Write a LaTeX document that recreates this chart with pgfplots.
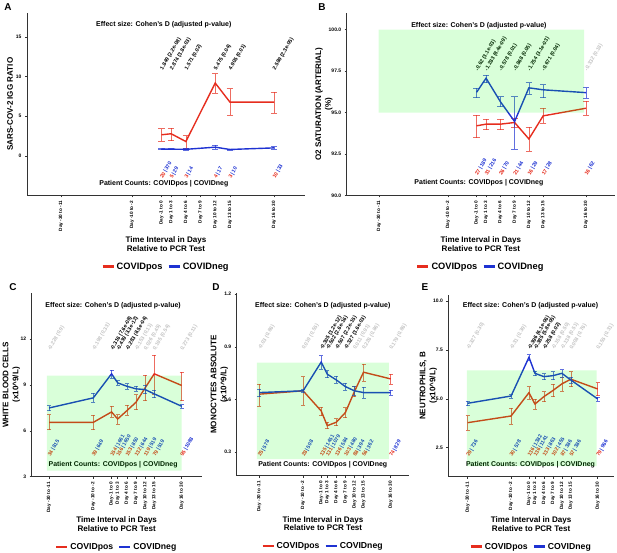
\documentclass[border=0pt]{standalone}
\usepackage{fontspec}
\setmainfont{Liberation Sans}
\usepackage{pgfplots}
\pgfplotsset{compat=1.18}
\definecolor{cpos}{RGB}{230,45,30}
\definecolor{cneg}{RGB}{30,50,210}
\definecolor{lgray}{RGB}{195,195,195}
\newcommand{\lblfont}{\bfseries\fontsize{5.3}{6}\selectfont}
\newcommand{\eff}[4]{\node[rotate=60, anchor=west, inner sep=0.4bp, text=#4, font=\lblfont] at (axis cs:#1,#2) {#3};}
\newcommand{\cnt}[4]{\node[rotate=60, anchor=west, inner sep=0.4bp, font=\lblfont] at (axis cs:#1,#2) {\textcolor{cpos}{#3}\,\textcolor{cneg}{|\,#4}};}
\pgfplotsset{
  panel/.style={
    scale only axis, anchor=south west,
    axis x line*=bottom, axis y line*=left,
    axis line style={line width=0.6bp, black!80},
    tick style={line width=0.5bp, black!80},
    tick align=outside, major tick length=2bp,
    xtick={-20.5,-6,0,2,5,8,11,14,23},
    xticklabels={Day -30 to -11, Day -10 to -2, Day -1 to 0, Day 1 to 3, Day 4 to 6, Day 7 to 9, Day 10 to 12, Day 13 to 15, Day 16 to 30},
    xticklabel style={rotate=90, anchor=east, font=\bfseries\fontsize{4.7}{5}\selectfont},
    yticklabel style={font=\bfseries\fontsize{5}{6}\selectfont},
    /pgf/number format/assume math mode=true,
    clip=false,
    xlabel={Time Interval in Days\\Relative to PCR Test},
    xlabel style={font=\bfseries\fontsize{8.1}{8.6}\selectfont, align=center, at={(axis description cs:0.5,-0.265)}, anchor=center},
    ylabel style={font=\bfseries\fontsize{8.1}{10}\selectfont, align=center, anchor=center},
    legend style={at={(axis description cs:0.5,-0.39)}, anchor=center, draw=none, fill=none, legend columns=2,
      font=\bfseries\fontsize{8.7}{9}\selectfont, /tikz/every even column/.append style={column sep=3bp}},
    legend image code/.code={\draw[#1, line width=2.3bp] (0bp,0.3bp) -- (11bp,0.3bp);},
  },
  ser/.style n args={2}{#1, line width=1.4bp, mark=none,
    error bars/.cd, y dir=both, y explicit,
    error bar style={line width=0.6bp, draw opacity=0.7},
    error mark options={rotate=90, mark size=#2, line width=0.6bp, draw opacity=0.7}},
}
\begin{document}
\begin{tikzpicture}
\path[use as bounding box] (0,0) rectangle (617bp,553bp);
\node[font=\bfseries\fontsize{10}{12}\selectfont] at (8bp,546bp) {A};
\node[font=\bfseries\fontsize{10}{12}\selectfont] at (322bp,546bp) {B};
\node[font=\bfseries\fontsize{10}{12}\selectfont] at (13bp,266bp) {C};
\node[font=\bfseries\fontsize{10}{12}\selectfont] at (216bp,266bp) {D};
\node[font=\bfseries\fontsize{10}{12}\selectfont] at (425bp,266bp) {E};

% ---------------- A ----------------
\begin{axis}[panel, at={(27bp,357.5bp)}, width=278bp, height=182.5bp,
  xmin=-27.44, xmax=29.33, ymin=-5, ymax=18, ytick={0,5,10,15},
  ylabel={SARS-COV-2 IGG RATIO}, ylabel style={at={(axis description cs:-0.061,0.5)}},
  legend style={font=\bfseries\fontsize{9.3}{10}\selectfont}]
\addplot[forget plot, ser={cpos}{3.2bp}] table[x=x, y=y, y error plus=ep, y error minus=em, row sep=\\] {
x y ep em\\ 0 2.65 0.76 0.80\\ 2 2.78 0.75 0.85\\ 5 1.80 0.75 0.85\\ 11 9.17 1.18 1.27\\ 14 6.77 1.69 1.68\\ 23 6.77 1.26 1.39\\};
\addplot[forget plot, ser={cneg}{3.2bp}] table[x=x, y=y, y error plus=ep, y error minus=em, row sep=\\] {
x y ep em\\ 0 0.84 0.06 0.06\\ 2 0.84 0.08 0.08\\ 5 0.82 0.08 0.08\\ 11 1.09 0.22 0.22\\ 14 0.80 0.08 0.08\\ 23 1.00 0.16 0.16\\};
\node[font=\bfseries\fontsize{7}{8}\selectfont] at (axis cs:0.5,16.5) {Effect size: Cohen's D (adjusted p-value)};
\node[font=\bfseries\fontsize{7}{8}\selectfont] at (axis cs:0.5,-3.46) {Patient Counts: COVIDpos | COVIDneg};
\eff{0}{10.8}{1.849 (2.2e-08)}{black}
\eff{2}{10.8}{2.874 (3.8e-03)}{black}
\eff{5}{10.8}{1.571 (0.02)}{black}
\eff{11}{10.8}{5.475 (0.04)}{black}
\eff{14}{10.8}{4.905 (0.01)}{black}
\eff{23}{10.8}{2.589 (2.3e-05)}{black}
\cnt{0}{-2.87}{20}{370}
\cnt{2}{-2.87}{5}{29}
\cnt{5}{-2.87}{3}{14}
\cnt{11}{-2.87}{4}{17}
\cnt{14}{-2.87}{3}{10}
\cnt{23}{-2.87}{10}{33}
\addlegendimage{cpos}\addlegendentry{COVIDpos}
\addlegendimage{cneg}\addlegendentry{COVIDneg}
\end{axis}

% ---------------- B ----------------
\begin{axis}[panel, at={(346.7bp,357.5bp)}, width=268.3bp, height=182.5bp,
  xmin=-27.29, xmax=29.1, ymin=90, ymax=101, ytick={90,92.5,95,97.5,100},
  yticklabel style={/pgf/number format/.cd, fixed, fixed zerofill, precision=1},
  ylabel={O2 SATURATION (ARTERIAL)\\(\%)}, ylabel style={at={(axis description cs:-0.085,0.5)}},
  legend style={font=\bfseries\fontsize{9.3}{10}\selectfont}]
\addplot[forget plot, ser={cpos}{3.2bp}] table[x=x, y=y, y error plus=ep, y error minus=em, row sep=\\] {
x y ep em\\ 0 94.20 0.66 0.71\\ 2 94.30 0.32 0.34\\ 5 94.30 0.32 0.34\\ 8 94.40 0.26 0.30\\ 11 93.41 0.69 0.72\\ 14 94.80 0.46 0.44\\ 23 95.26 0.44 0.40\\};
\addplot[forget plot, ser={cneg}{3.2bp}] table[x=x, y=y, y error plus=ep, y error minus=em, row sep=\\] {
x y ep em\\ 0 96.22 0.24 0.32\\ 2 97.07 0.20 0.26\\ 5 95.66 0.30 0.30\\ 8 94.46 1.50 1.65\\ 11 96.49 0.32 0.39\\ 14 96.37 0.32 0.47\\ 23 96.20 0.30 0.34\\};
\node[font=\bfseries\fontsize{7}{8}\selectfont] at (axis cs:0.5,100.25) {Effect size: Cohen's D (adjusted p-value)};
\node[font=\bfseries\fontsize{7}{8}\selectfont] at (axis cs:0.5,90.74) {Patient Counts: COVIDpos | COVIDneg};
\eff{0}{97.5}{-0.62 (3.1e-03)}{black}
\eff{2}{97.5}{-1.283 (8.4e-09)}{black}
\eff{5}{97.5}{-0.578 (0.01)}{black}
\eff{8}{97.5}{-0.868 (0.05)}{black}
\eff{11}{97.5}{-1.254 (3.1e-03)}{black}
\eff{14}{97.5}{-0.671 (0.04)}{black}
\eff{23}{97.5}{-0.332 (0.18)}{lgray}
\cnt{0}{91.2}{27}{189}
\cnt{2}{91.2}{31}{216}
\cnt{5}{91.2}{26}{70}
\cnt{8}{91.2}{21}{44}
\cnt{11}{91.2}{16}{29}
\cnt{14}{91.2}{17}{28}
\cnt{23}{91.2}{16}{62}
\addplot[forget plot, draw=none, fill=green, fill opacity=0.15] coordinates {(-20.6,95) (22.6,95) (22.6,100) (-20.6,100) (-20.6,95)};
\addlegendimage{cpos}\addlegendentry{COVIDpos}
\addlegendimage{cneg}\addlegendentry{COVIDneg}
\end{axis}

% ---------------- C ----------------
\begin{axis}[panel, at={(31.7bp,76.3bp)}, width=170bp, height=183.7bp,
  xmin=-26.2, xmax=29.56, ymin=3, ymax=15, ytick={3,6,9,12},
  ylabel={WHITE BLOOD CELLS\\(x10\textasciicircum 9/L)}, ylabel style={at={(axis description cs:-0.12,0.5)}},
  xlabel style={at={(axis description cs:0.5,-0.257)}}, legend style={at={(axis description cs:0.5,-0.383)}}]
\addplot[forget plot, ser={cpos}{2bp}] table[x=x, y=y, y error plus=ep, y error minus=em, row sep=\\] {
x y ep em\\ -20.5 6.55 0.50 0.48\\ -6 6.55 0.45 0.48\\ 0 7.23 0.37 0.36\\ 2 6.77 0.28 0.33\\ 5 7.31 0.35 0.31\\ 8 7.86 0.50 0.48\\ 11 8.80 0.83 0.83\\ 14 9.72 1.23 1.36\\ 23 8.96 0.89 0.99\\};
\addplot[forget plot, ser={cneg}{2bp}] table[x=x, y=y, y error plus=ep, y error minus=em, row sep=\\] {
x y ep em\\ -20.5 7.49 0.15 0.18\\ -6 8.15 0.32 0.27\\ 0 9.72 0.24 0.26\\ 2 9.13 0.15 0.15\\ 5 8.91 0.16 0.17\\ 8 8.74 0.17 0.17\\ 11 8.69 0.27 0.27\\ 14 8.41 0.25 0.25\\ 23 7.60 0.10 0.10\\};
\node[font=\bfseries\fontsize{7}{8}\selectfont] at (axis cs:0.5,14.15) {Effect size: Cohen's D (adjusted p-value)};
\node[font=\bfseries\fontsize{7}{8}\selectfont] at (axis cs:0.5,3.77) {Patient Counts: COVIDpos | COVIDneg};
\eff{-20.5}{11.25}{-0.228 (0.9)}{lgray}
\eff{-6}{11.25}{-0.198 (0.33)}{lgray}
\eff{0}{11.25}{-0.316 (7.6e-08)}{black}
\eff{2}{11.25}{-0.439 (3.3e-12)}{black}
\eff{5}{11.25}{-0.283 (8.5e-04)}{black}
\eff{8}{11.25}{-0.153 (0.11)}{lgray}
\eff{11}{11.25}{0.026 (0.45)}{lgray}
\eff{14}{11.25}{0.195 (0.54)}{lgray}
\eff{23}{11.25}{0.273 (0.11)}{lgray}
\cnt{-20.5}{4.31}{34}{815}
\cnt{-6}{4.31}{39}{649}
\cnt{0}{4.31}{154}{1661}
\cnt{2}{4.31}{156}{1650}
\cnt{5}{4.31}{153}{850}
\cnt{8}{4.31}{132}{644}
\cnt{11}{4.31}{119}{519}
\cnt{14}{4.31}{79}{519}
\cnt{23}{4.31}{95}{1088}
\addplot[forget plot, draw=none, fill=green, fill opacity=0.15] coordinates {(-21.2,3.4) (23,3.4) (23,9.6) (-21.2,9.6) (-21.2,3.4)};
\addlegendimage{cpos}\addlegendentry{COVIDpos}
\addlegendimage{cneg}\addlegendentry{COVIDneg}
\end{axis}

% ---------------- D ----------------
\begin{axis}[panel, at={(236.7bp,77.3bp)}, width=172.6bp, height=182.4bp,
  xmin=-27.98, xmax=29.16, ymin=0.165, ymax=1.205, ytick={0.3,0.6,0.9,1.2},
  yticklabel style={/pgf/number format/.cd, fixed, fixed zerofill, precision=1},
  ylabel={MONOCYTES ABSOLUTE\\(x10\textasciicircum 9/L)}, ylabel style={at={(axis description cs:-0.10,0.5)}},
  xlabel style={at={(axis description cs:0.5,-0.262)}}, legend style={at={(axis description cs:0.5,-0.388)}}]
\addplot[forget plot, ser={cpos}{2bp}] table[x=x, y=y, y error plus=ep, y error minus=em, row sep=\\] {
x y ep em\\ -20.5 0.630 0.057 0.067\\ -6 0.649 0.081 0.080\\ 0 0.534 0.022 0.027\\ 2 0.450 0.020 0.017\\ 5 0.470 0.020 0.020\\ 8 0.525 0.028 0.029\\ 11 0.645 0.028 0.029\\ 14 0.755 0.045 0.049\\ 23 0.717 0.027 0.030\\};
\addplot[forget plot, ser={cneg}{2bp}] table[x=x, y=y, y error plus=ep, y error minus=em, row sep=\\] {
x y ep em\\ -20.5 0.639 0.019 0.023\\ -6 0.649 0.010 0.010\\ 0 0.813 0.037 0.039\\ 2 0.744 0.020 0.020\\ 5 0.711 0.020 0.020\\ 8 0.673 0.020 0.020\\ 11 0.649 0.025 0.025\\ 14 0.639 0.030 0.030\\ 23 0.639 0.015 0.015\\};
\node[font=\bfseries\fontsize{7}{8}\selectfont] at (axis cs:0.5,1.134) {Effect size: Cohen's D (adjusted p-value)};
\node[font=\bfseries\fontsize{7}{8}\selectfont] at (axis cs:0.5,0.226) {Patient Counts: COVIDpos | COVIDneg};
\eff{-20.5}{0.883}{-0.03 (0.86)}{lgray}
\eff{-6}{0.883}{0.019 (0.55)}{lgray}
\eff{0}{0.883}{-0.305 (3.2e-12)}{black}
\eff{2}{0.883}{-0.502 (2.6e-16)}{black}
\eff{5}{0.883}{-0.507 (2.2e-15)}{black}
\eff{8}{0.883}{-0.327 (3.6e-03)}{black}
\eff{11}{0.883}{0.011 (0.91)}{lgray}
\eff{14}{0.883}{0.226 (0.86)}{lgray}
\eff{23}{0.883}{0.179 (0.86)}{lgray}
\cnt{-20.5}{0.273}{25}{578}
\cnt{-6}{0.273}{28}{508}
\cnt{0}{0.273}{135}{1451}
\cnt{2}{0.273}{131}{1079}
\cnt{5}{0.273}{136}{584}
\cnt{8}{0.273}{103}{480}
\cnt{11}{0.273}{88}{394}
\cnt{14}{0.273}{56}{362}
\cnt{23}{0.273}{74}{829}
\addplot[forget plot, draw=none, fill=green, fill opacity=0.15] coordinates {(-21.3,0.26) (22.4,0.26) (22.4,0.81) (-21.3,0.81) (-21.3,0.26)};
\addlegendimage{cpos}\addlegendentry{COVIDpos}
\addlegendimage{cneg}\addlegendentry{COVIDneg}
\end{axis}

% ---------------- E ----------------
\begin{axis}[panel, at={(448.3bp,76.3bp)}, width=165.7bp, height=181.7bp,
  xmin=-26.99, xmax=28.45, ymin=1.02, ymax=10.3, ytick={2.5,5,7.5,10},
  yticklabel style={/pgf/number format/.cd, fixed, fixed zerofill, precision=1},
  ylabel={NEUTROPHILS, B\\(x10\textasciicircum 9/L)}, ylabel style={at={(axis description cs:-0.12,0.5)}},
  xlabel style={at={(axis description cs:0.5,-0.26)}}, legend style={at={(axis description cs:0.5,-0.386)}}]
\addplot[forget plot, ser={cpos}{2bp}] table[x=x, y=y, y error plus=ep, y error minus=em, row sep=\\] {
x y ep em\\ -20.5 3.78 0.36 0.38\\ -6 4.12 0.39 0.42\\ 0 5.31 0.31 0.34\\ 2 4.73 0.26 0.25\\ 5 5.11 0.25 0.26\\ 8 5.42 0.32 0.31\\ 11 5.76 0.32 0.36\\ 14 6.00 0.39 0.38\\ 23 5.50 0.32 0.34\\};
\addplot[forget plot, ser={cneg}{2bp}] table[x=x, y=y, y error plus=ep, y error minus=em, row sep=\\] {
x y ep em\\ -20.5 4.77 0.12 0.12\\ -6 5.14 0.10 0.10\\ 0 7.12 0.13 0.13\\ 2 6.30 0.12 0.12\\ 5 6.13 0.15 0.15\\ 8 6.18 0.20 0.20\\ 11 6.30 0.18 0.18\\ 14 5.96 0.15 0.15\\ 23 4.99 0.10 0.10\\};
\node[font=\bfseries\fontsize{7}{8}\selectfont] at (axis cs:0.5,9.74) {Effect size: Cohen's D (adjusted p-value)};
\node[font=\bfseries\fontsize{7}{8}\selectfont] at (axis cs:0.5,1.62) {Patient Counts: COVIDpos | COVIDneg};
\eff{-20.5}{7.5}{-0.327 (0.30)}{lgray}
\eff{-6}{7.5}{-0.31 (0.39)}{lgray}
\eff{0}{7.5}{-0.396 (6.1e-06)}{black}
\eff{2}{7.5}{-0.385 (5.8e-05)}{black}
\eff{5}{7.5}{-0.258 (0.02)}{black}
\eff{8}{7.5}{-0.158 (0.50)}{lgray}
\eff{11}{7.5}{-0.138 (0.51)}{lgray}
\eff{14}{7.5}{0.008 (0.76)}{lgray}
\eff{23}{7.5}{0.155 (0.31)}{lgray}
\cnt{-20.5}{2.04}{29}{736}
\cnt{-6}{2.04}{30}{578}
\cnt{0}{2.04}{136}{1382}
\cnt{2}{2.04}{136}{1141}
\cnt{5}{2.04}{133}{863}
\cnt{8}{2.04}{102}{455}
\cnt{11}{2.04}{87}{386}
\cnt{14}{2.04}{57}{386}
\cnt{23}{2.04}{79}{966}
\addplot[forget plot, draw=none, fill=green, fill opacity=0.15] coordinates {(-20.8,1.56) (22.6,1.56) (22.6,6.45) (-20.8,6.45) (-20.8,1.56)};
\addlegendimage{cpos}\addlegendentry{COVIDpos}
\addlegendimage{cneg}\addlegendentry{COVIDneg}
\end{axis}
\end{tikzpicture}
\end{document}
